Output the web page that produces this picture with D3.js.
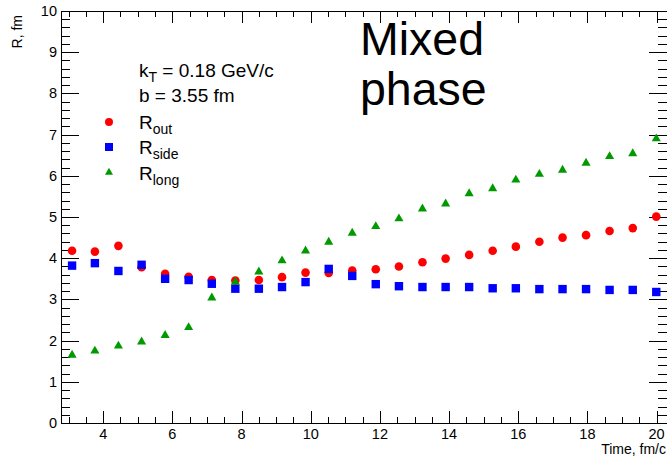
<!DOCTYPE html>
<meta charset="utf-8">
<style>
body { margin: 0; background: #fff; }
text { font-family: "Liberation Sans", Arial, sans-serif; fill: #000; }
</style>
<svg width="667" height="456"></svg>
<script src="https://d3js.org/d3.v7.min.js"></script>
<script>
// radii vs time
var time = [3.1, 3.76, 4.44, 5.11, 5.79, 6.47, 7.14, 7.82, 8.5, 9.17, 9.85, 10.52, 11.2,
  11.88, 12.55, 13.23, 13.9, 14.58, 15.26, 15.93, 16.61, 17.28, 17.96, 18.64, 19.31, 19.99]
var rOut = [4.18, 4.16, 4.30, 3.78, 3.62, 3.55, 3.47, 3.46, 3.47, 3.54, 3.65, 3.64, 3.70,
  3.73, 3.80, 3.90, 3.99, 4.08, 4.18, 4.28, 4.40, 4.50, 4.56, 4.66, 4.73, 5.01]
var rSide = [3.82, 3.88, 3.69, 3.84, 3.50, 3.47, 3.38, 3.26, 3.26, 3.30, 3.42, 3.74, 3.57,
  3.37, 3.32, 3.30, 3.30, 3.30, 3.27, 3.27, 3.25, 3.25, 3.25, 3.23, 3.23, 3.18]
var rLong = [1.65, 1.75, 1.87, 1.97, 2.13, 2.32, 3.04, 3.42, 3.67, 3.94, 4.18, 4.39, 4.61,
  4.77, 4.96, 5.20, 5.32, 5.57, 5.69, 5.90, 6.04, 6.14, 6.31, 6.47, 6.54, 6.90]

var xTicks = [4, 6, 8, 10, 12, 14, 16, 18, 20]
var yTicks = [0, 1, 2, 3, 4, 5, 6, 7, 8, 9, 10]

var svg = d3.select('svg')
var padL = 61, padR = 667, padT = 11, padB = 423

var x = d3.scaleLinear().domain([2.78, 20.3]).range([padL, padR])
var y = d3.scaleLinear().domain([0, 10]).range([padB, padT])

// frame
svg.append('rect')
  .attr('x', padL + 0.5).attr('y', padT + 0.5)
  .attr('width', padR - padL).attr('height', padB - padT)
  .attr('fill', 'none').attr('stroke', '#000')

var ticks = svg.append('g').attr('stroke', '#000').attr('stroke-width', 1)

// x ticks, bottom and top
d3.range(3, 20.01, 0.5).forEach(function (v) {
  var major = Math.abs(v / 2 - Math.round(v / 2)) < 1e-6
  var len = major ? 12 : 6
  var px = Math.round(x(v)) + 0.5
  ticks.append('line').attr('x1', px).attr('x2', px).attr('y1', padB).attr('y2', padB - len)
  ticks.append('line').attr('x1', px).attr('x2', px).attr('y1', padT).attr('y2', padT + len)
})

// y ticks, left and right
d3.range(0, 50.5, 1).forEach(function (i) {
  var v = i * 0.2
  var major = i % 5 === 0
  var len = major ? 18 : 9
  var py = Math.round(y(v)) + 0.5
  ticks.append('line').attr('x1', padL).attr('x2', padL + len).attr('y1', py).attr('y2', py)
  ticks.append('line').attr('x1', padR).attr('x2', padR - len).attr('y1', py).attr('y2', py)
})

svg.append('g').selectAll('text').data(xTicks).join('text')
  .attr('x', function (d) { return x(d) })
  .attr('y', 439)
  .attr('text-anchor', 'middle')
  .attr('font-size', 14.5)
  .text(function (d) { return d })

svg.append('g').selectAll('text').data(yTicks).join('text')
  .attr('x', 57)
  .attr('y', function (d) { return y(d) + 5 })
  .attr('text-anchor', 'end')
  .attr('font-size', 14.5)
  .text(function (d) { return d })

svg.append('text')
  .attr('x', 666).attr('y', 454)
  .attr('text-anchor', 'end').attr('font-size', 14)
  .text('Time, fm/c')

svg.append('text')
  .attr('transform', 'translate(22,15) rotate(-90)')
  .attr('text-anchor', 'end').attr('font-size', 14)
  .text('R, fm')

// markers
var red = '#ff0000', blue = '#0000ff', green = '#009a00'
var tri = d3.symbol().type(d3.symbolTriangle).size(36)

function circles(g, xs, ys) {
  g.selectAll('circle').data(xs).join('circle')
    .attr('cx', function (d) { return x(d) })
    .attr('cy', function (d, i) { return y(ys[i]) })
    .attr('r', 4.3).attr('fill', red)
}
function squares(g, xs, ys) {
  g.selectAll('rect').data(xs).join('rect')
    .attr('x', function (d) { return x(d) - 4.2 })
    .attr('y', function (d, i) { return y(ys[i]) - 4.2 })
    .attr('width', 8.4).attr('height', 8.4).attr('fill', blue)
}
function triangles(g, xs, ys) {
  g.selectAll('path').data(xs).join('path')
    .attr('d', tri)
    .attr('transform', function (d, i) { return 'translate(' + x(d) + ',' + y(ys[i]) + ')' })
    .attr('fill', green)
}

circles(svg.append('g'), time, rOut)
squares(svg.append('g'), time, rSide)
triangles(svg.append('g'), time, rLong)

// legend
var lg = svg.append('g')
var kt = lg.append('text').attr('x', 139).attr('y', 77).attr('font-size', 19)
kt.append('tspan').text('k')
kt.append('tspan').attr('font-size', 14).attr('dy', 5).text('T')
kt.append('tspan').attr('dy', -5).text(' = 0.18 GeV/c')
lg.append('text').attr('x', 139).attr('y', 102).attr('font-size', 19).text('b = 3.55 fm')

var items = [
  { sub: 'out', y: 122, kind: 'c' },
  { sub: 'side', y: 147, kind: 's' },
  { sub: 'long', y: 172.5, kind: 't' }
]
items.forEach(function (it) {
  if (it.kind === 'c') {
    lg.append('circle').attr('cx', 109).attr('cy', it.y).attr('r', 4).attr('fill', red)
  } else if (it.kind === 's') {
    lg.append('rect').attr('x', 105).attr('y', it.y - 4).attr('width', 8).attr('height', 8).attr('fill', blue)
  } else {
    lg.append('path').attr('d', d3.symbol().type(d3.symbolTriangle).size(28))
      .attr('transform', 'translate(109,' + it.y + ')').attr('fill', green)
  }
  var t = lg.append('text').attr('x', 139).attr('y', it.y + 7).attr('font-size', 19)
  t.append('tspan').text('R')
  t.append('tspan').attr('font-size', 14).attr('dy', 5).text(it.sub)
})

// big annotation
var mp = svg.append('text').attr('font-size', 46.5)
mp.append('tspan').attr('x', 360).attr('y', 55).text('Mixed')
mp.append('tspan').attr('x', 360).attr('y', 105).text('phase')
</script>
